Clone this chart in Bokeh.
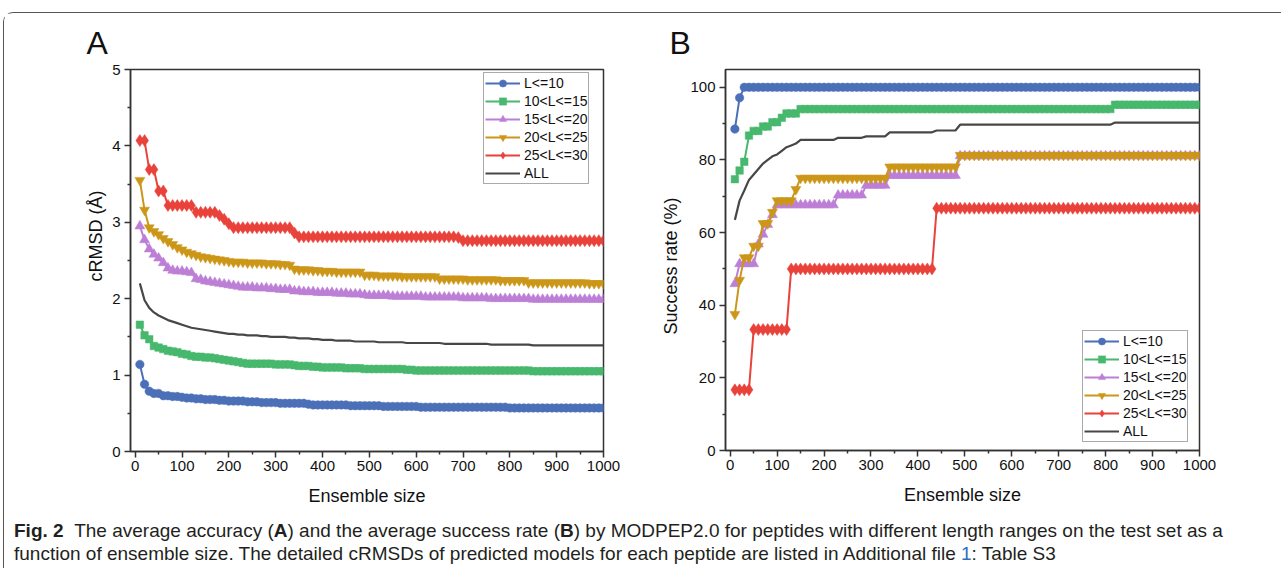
import math
from bokeh.plotting import figure
from bokeh.models import Legend, LegendItem, Title, Range1d, Div, FixedTicker
from bokeh.layouts import column, row
from bokeh.embed import file_html
from bokeh.resources import INLINE

# ---------------- data ----------------
ensemble_size = list(range(10, 1001, 10))

series_labels = ["L<=10", "10<L<=15", "15<L<=20", "20<L<=25", "25<L<=30", "ALL"]

crmsd_L10 = [
    1.14, 0.88, 0.79, 0.76, 0.76, 0.73, 0.73, 0.72, 0.72, 0.71,
    0.70, 0.70, 0.69, 0.69, 0.68, 0.68, 0.68, 0.67, 0.67, 0.66,
    0.66, 0.66, 0.66, 0.65, 0.65, 0.65, 0.64, 0.64, 0.64, 0.64,
    0.63, 0.63, 0.63, 0.63, 0.63, 0.63, 0.62, 0.61, 0.61, 0.61,
    0.61, 0.61, 0.61, 0.61, 0.61, 0.60, 0.60, 0.60, 0.60, 0.60,
    0.60, 0.60, 0.59, 0.59, 0.59, 0.59, 0.59, 0.59, 0.59, 0.59,
    0.58, 0.58, 0.58, 0.58, 0.58, 0.58, 0.58, 0.58, 0.58, 0.58,
    0.58, 0.58, 0.58, 0.58, 0.58, 0.58, 0.58, 0.58, 0.58, 0.57,
    0.57, 0.57, 0.57, 0.57, 0.57, 0.57, 0.57, 0.57, 0.57, 0.57,
    0.57, 0.57, 0.57, 0.57, 0.57, 0.57, 0.57, 0.57, 0.57, 0.57,
]
crmsd_L15 = [
    1.66, 1.52, 1.47, 1.38, 1.36, 1.34, 1.32, 1.31, 1.30, 1.28,
    1.27, 1.25, 1.24, 1.24, 1.23, 1.23, 1.22, 1.21, 1.20, 1.19,
    1.18, 1.17, 1.16, 1.15, 1.15, 1.15, 1.15, 1.15, 1.15, 1.14,
    1.14, 1.14, 1.14, 1.13, 1.12, 1.12, 1.12, 1.11, 1.11, 1.10,
    1.10, 1.10, 1.10, 1.10, 1.09, 1.09, 1.09, 1.09, 1.08, 1.08,
    1.08, 1.08, 1.08, 1.08, 1.08, 1.08, 1.08, 1.07, 1.07, 1.06,
    1.06, 1.06, 1.06, 1.06, 1.06, 1.06, 1.06, 1.06, 1.06, 1.06,
    1.06, 1.06, 1.06, 1.06, 1.06, 1.06, 1.06, 1.06, 1.06, 1.06,
    1.06, 1.06, 1.06, 1.06, 1.05, 1.05, 1.05, 1.05, 1.05, 1.05,
    1.05, 1.05, 1.05, 1.05, 1.05, 1.05, 1.05, 1.05, 1.05, 1.05,
]
crmsd_L20 = [
    2.95, 2.77, 2.65, 2.58, 2.53, 2.47, 2.40, 2.37, 2.36, 2.36,
    2.35, 2.34, 2.26, 2.25, 2.23, 2.22, 2.21, 2.20, 2.19, 2.18,
    2.17, 2.16, 2.15, 2.15, 2.15, 2.14, 2.14, 2.14, 2.13, 2.13,
    2.12, 2.12, 2.12, 2.10, 2.10, 2.09, 2.09, 2.09, 2.08, 2.08,
    2.08, 2.08, 2.07, 2.07, 2.07, 2.06, 2.06, 2.06, 2.05, 2.04,
    2.04, 2.04, 2.04, 2.04, 2.03, 2.03, 2.03, 2.03, 2.03, 2.03,
    2.03, 2.02, 2.02, 2.02, 2.02, 2.02, 2.02, 2.02, 2.02, 2.01,
    2.01, 2.01, 2.01, 2.01, 2.01, 2.00, 2.00, 2.00, 2.00, 2.00,
    2.00, 2.00, 2.00, 2.00, 1.99, 1.99, 1.99, 1.99, 1.99, 1.99,
    1.99, 1.99, 1.99, 1.99, 1.99, 1.99, 1.99, 1.99, 1.99, 1.99,
]
crmsd_L25 = [
    3.55, 3.16, 2.93, 2.88, 2.84, 2.79, 2.75, 2.71, 2.67, 2.64,
    2.61, 2.59, 2.57, 2.55, 2.54, 2.53, 2.52, 2.51, 2.50, 2.49,
    2.48, 2.48, 2.48, 2.47, 2.47, 2.47, 2.47, 2.46, 2.46, 2.46,
    2.45, 2.45, 2.44, 2.39, 2.38, 2.38, 2.38, 2.37, 2.37, 2.36,
    2.36, 2.36, 2.35, 2.35, 2.35, 2.35, 2.35, 2.35, 2.31, 2.31,
    2.31, 2.30, 2.30, 2.30, 2.30, 2.30, 2.29, 2.29, 2.29, 2.29,
    2.29, 2.29, 2.29, 2.29, 2.26, 2.26, 2.26, 2.26, 2.26, 2.26,
    2.25, 2.25, 2.25, 2.25, 2.25, 2.25, 2.25, 2.24, 2.24, 2.24,
    2.24, 2.24, 2.24, 2.21, 2.21, 2.21, 2.21, 2.21, 2.21, 2.21,
    2.21, 2.21, 2.21, 2.21, 2.21, 2.21, 2.20, 2.20, 2.20, 2.20,
]
crmsd_L30 = [
    4.07, 4.07, 3.69, 3.69, 3.41, 3.41, 3.22, 3.22, 3.22, 3.22,
    3.22, 3.22, 3.13, 3.13, 3.13, 3.13, 3.13, 3.09, 3.04, 2.98,
    2.93, 2.93, 2.93, 2.93, 2.93, 2.93, 2.93, 2.93, 2.93, 2.93,
    2.93, 2.93, 2.93, 2.86, 2.81, 2.81, 2.81, 2.81, 2.81, 2.81,
    2.81, 2.81, 2.81, 2.81, 2.81, 2.81, 2.81, 2.81, 2.81, 2.81,
    2.81, 2.81, 2.81, 2.81, 2.81, 2.81, 2.81, 2.81, 2.81, 2.81,
    2.81, 2.81, 2.81, 2.81, 2.81, 2.81, 2.81, 2.81, 2.80, 2.76,
    2.76, 2.76, 2.76, 2.76, 2.76, 2.76, 2.76, 2.76, 2.76, 2.76,
    2.76, 2.76, 2.76, 2.76, 2.76, 2.76, 2.76, 2.76, 2.76, 2.76,
    2.76, 2.76, 2.76, 2.76, 2.76, 2.76, 2.76, 2.76, 2.76, 2.76,
]
crmsd_all = [
    2.20, 1.98, 1.88, 1.82, 1.78, 1.75, 1.72, 1.70, 1.68, 1.66,
    1.64, 1.62, 1.61, 1.60, 1.59, 1.58, 1.57, 1.56, 1.55, 1.54,
    1.54, 1.53, 1.53, 1.52, 1.52, 1.52, 1.51, 1.51, 1.50, 1.50,
    1.50, 1.50, 1.49, 1.49, 1.48, 1.48, 1.48, 1.47, 1.47, 1.46,
    1.46, 1.46, 1.45, 1.45, 1.45, 1.45, 1.44, 1.44, 1.44, 1.44,
    1.44, 1.43, 1.43, 1.43, 1.43, 1.43, 1.43, 1.42, 1.42, 1.42,
    1.42, 1.42, 1.42, 1.42, 1.42, 1.41, 1.41, 1.41, 1.41, 1.41,
    1.41, 1.41, 1.41, 1.41, 1.41, 1.40, 1.40, 1.40, 1.40, 1.40,
    1.40, 1.40, 1.40, 1.40, 1.39, 1.39, 1.39, 1.39, 1.39, 1.39,
    1.39, 1.39, 1.39, 1.39, 1.39, 1.39, 1.39, 1.39, 1.39, 1.39,
]

rate_L10 = [
    88.5, 97.1, 100.0, 100.0, 100.0, 100.0, 100.0, 100.0, 100.0, 100.0,
    100.0, 100.0, 100.0, 100.0, 100.0, 100.0, 100.0, 100.0, 100.0, 100.0,
    100.0, 100.0, 100.0, 100.0, 100.0, 100.0, 100.0, 100.0, 100.0, 100.0,
    100.0, 100.0, 100.0, 100.0, 100.0, 100.0, 100.0, 100.0, 100.0, 100.0,
    100.0, 100.0, 100.0, 100.0, 100.0, 100.0, 100.0, 100.0, 100.0, 100.0,
    100.0, 100.0, 100.0, 100.0, 100.0, 100.0, 100.0, 100.0, 100.0, 100.0,
    100.0, 100.0, 100.0, 100.0, 100.0, 100.0, 100.0, 100.0, 100.0, 100.0,
    100.0, 100.0, 100.0, 100.0, 100.0, 100.0, 100.0, 100.0, 100.0, 100.0,
    100.0, 100.0, 100.0, 100.0, 100.0, 100.0, 100.0, 100.0, 100.0, 100.0,
    100.0, 100.0, 100.0, 100.0, 100.0, 100.0, 100.0, 100.0, 100.0, 100.0,
]
rate_L15 = [
    74.7, 77.1, 79.5, 86.7, 88.0, 88.0, 89.2, 89.2, 90.4, 90.4,
    91.6, 92.8, 92.8, 92.8, 94.0, 94.0, 94.0, 94.0, 94.0, 94.0,
    94.0, 94.0, 94.0, 94.0, 94.0, 94.0, 94.0, 94.0, 94.0, 94.0,
    94.0, 94.0, 94.0, 94.0, 94.0, 94.0, 94.0, 94.0, 94.0, 94.0,
    94.0, 94.0, 94.0, 94.0, 94.0, 94.0, 94.0, 94.0, 94.0, 94.0,
    94.0, 94.0, 94.0, 94.0, 94.0, 94.0, 94.0, 94.0, 94.0, 94.0,
    94.0, 94.0, 94.0, 94.0, 94.0, 94.0, 94.0, 94.0, 94.0, 94.0,
    94.0, 94.0, 94.0, 94.0, 94.0, 94.0, 94.0, 94.0, 94.0, 94.0,
    94.0, 95.2, 95.2, 95.2, 95.2, 95.2, 95.2, 95.2, 95.2, 95.2,
    95.2, 95.2, 95.2, 95.2, 95.2, 95.2, 95.2, 95.2, 95.2, 95.2,
]
rate_L20 = [
    45.9, 51.4, 51.4, 51.4, 51.4, 56.8, 59.5, 62.2, 64.9, 67.6,
    67.6, 67.6, 67.6, 67.6, 67.6, 67.6, 67.6, 67.6, 67.6, 67.6,
    67.6, 67.6, 70.3, 70.3, 70.3, 70.3, 70.3, 70.3, 73.0, 73.0,
    73.0, 73.0, 73.0, 75.7, 75.7, 75.7, 75.7, 75.7, 75.7, 75.7,
    75.7, 75.7, 75.7, 75.7, 75.7, 75.7, 75.7, 75.7, 81.1, 81.1,
    81.1, 81.1, 81.1, 81.1, 81.1, 81.1, 81.1, 81.1, 81.1, 81.1,
    81.1, 81.1, 81.1, 81.1, 81.1, 81.1, 81.1, 81.1, 81.1, 81.1,
    81.1, 81.1, 81.1, 81.1, 81.1, 81.1, 81.1, 81.1, 81.1, 81.1,
    81.1, 81.1, 81.1, 81.1, 81.1, 81.1, 81.1, 81.1, 81.1, 81.1,
    81.1, 81.1, 81.1, 81.1, 81.1, 81.1, 81.1, 81.1, 81.1, 81.1,
]
rate_L25 = [
    37.5, 46.9, 53.1, 53.1, 56.3, 56.3, 62.5, 62.5, 65.6, 68.8,
    68.8, 68.8, 68.8, 71.9, 75.0, 75.0, 75.0, 75.0, 75.0, 75.0,
    75.0, 75.0, 75.0, 75.0, 75.0, 75.0, 75.0, 75.0, 75.0, 75.0,
    75.0, 75.0, 75.0, 78.1, 78.1, 78.1, 78.1, 78.1, 78.1, 78.1,
    78.1, 78.1, 78.1, 78.1, 78.1, 78.1, 78.1, 78.1, 81.3, 81.3,
    81.3, 81.3, 81.3, 81.3, 81.3, 81.3, 81.3, 81.3, 81.3, 81.3,
    81.3, 81.3, 81.3, 81.3, 81.3, 81.3, 81.3, 81.3, 81.3, 81.3,
    81.3, 81.3, 81.3, 81.3, 81.3, 81.3, 81.3, 81.3, 81.3, 81.3,
    81.3, 81.3, 81.3, 81.3, 81.3, 81.3, 81.3, 81.3, 81.3, 81.3,
    81.3, 81.3, 81.3, 81.3, 81.3, 81.3, 81.3, 81.3, 81.3, 81.3,
]
rate_L30 = [
    16.7, 16.7, 16.7, 16.7, 33.3, 33.3, 33.3, 33.3, 33.3, 33.3,
    33.3, 33.3, 50.0, 50.0, 50.0, 50.0, 50.0, 50.0, 50.0, 50.0,
    50.0, 50.0, 50.0, 50.0, 50.0, 50.0, 50.0, 50.0, 50.0, 50.0,
    50.0, 50.0, 50.0, 50.0, 50.0, 50.0, 50.0, 50.0, 50.0, 50.0,
    50.0, 50.0, 50.0, 66.7, 66.7, 66.7, 66.7, 66.7, 66.7, 66.7,
    66.7, 66.7, 66.7, 66.7, 66.7, 66.7, 66.7, 66.7, 66.7, 66.7,
    66.7, 66.7, 66.7, 66.7, 66.7, 66.7, 66.7, 66.7, 66.7, 66.7,
    66.7, 66.7, 66.7, 66.7, 66.7, 66.7, 66.7, 66.7, 66.7, 66.7,
    66.7, 66.7, 66.7, 66.7, 66.7, 66.7, 66.7, 66.7, 66.7, 66.7,
    66.7, 66.7, 66.7, 66.7, 66.7, 66.7, 66.7, 66.7, 66.7, 66.7,
]
rate_all = [
    63.5, 68.8, 71.6, 74.5, 76.0, 77.5, 79.0, 80.0, 81.0, 81.5,
    82.5, 83.5, 84.0, 84.5, 85.5, 85.5, 85.5, 85.5, 85.5, 85.5,
    85.5, 85.5, 86.1, 86.1, 86.1, 86.1, 86.1, 86.1, 86.5, 86.5,
    86.5, 86.5, 86.5, 87.6, 87.6, 87.6, 87.6, 87.6, 87.6, 87.6,
    87.6, 87.6, 87.6, 88.1, 88.1, 88.1, 88.1, 88.1, 89.7, 89.7,
    89.7, 89.7, 89.7, 89.7, 89.7, 89.7, 89.7, 89.7, 89.7, 89.7,
    89.7, 89.7, 89.7, 89.7, 89.7, 89.7, 89.7, 89.7, 89.7, 89.7,
    89.7, 89.7, 89.7, 89.7, 89.7, 89.7, 89.7, 89.7, 89.7, 89.7,
    89.7, 90.3, 90.3, 90.3, 90.3, 90.3, 90.3, 90.3, 90.3, 90.3,
    90.3, 90.3, 90.3, 90.3, 90.3, 90.3, 90.3, 90.3, 90.3, 90.3,
]

x_ticks = [0, 100, 200, 300, 400, 500, 600, 700, 800, 900, 1000]
x_minor = [50, 150, 250, 350, 450, 550, 650, 750, 850, 950]
a_y_ticks = [0, 1, 2, 3, 4, 5]
a_y_minor = [0.5, 1.5, 2.5, 3.5, 4.5]
b_y_ticks = [0, 20, 40, 60, 80, 100]
b_y_minor = [10, 30, 50, 70, 90]

# ---------------- style ----------------
FONT = "Liberation Sans"
AXC = "#333333"
TXT = "#111111"
colors = ["#4B70B8", "#47B86D", "#BD7FD6", "#CC9618", "#E8423B", "#4A4646"]
markers = [("circle", 8.5), ("square", 7.5), ("triangle", 10),
           ("inverted_triangle", 10), ("diamond", 12)]


def make_fig(frame_w, frame_h, left, right, top, yr, letter, letter_offset):
    p = figure(frame_width=frame_w, frame_height=frame_h,
               min_border_left=left, min_border_right=right,
               min_border_top=top, min_border_bottom=55,
               x_range=Range1d(-10, 1000), y_range=Range1d(*yr),
               title=letter, output_backend="svg", toolbar_location=None)
    p.title.text_font = FONT
    p.title.text_font_size = "32px"
    p.title.text_font_style = "normal"
    p.title.text_color = TXT
    p.title.align = "left"
    p.title.vertical_align = "middle"
    p.title.offset = letter_offset
    p.title.standoff = 16
    p.xgrid.visible = False
    p.ygrid.visible = False
    p.outline_line_color = AXC
    p.outline_line_width = 1.5
    p.outline_line_alpha = 1
    p.background_fill_color = "white"
    p.border_fill_color = "white"
    for ax in (p.xaxis[0], p.yaxis[0]):
        ax.axis_line_color = AXC
        ax.axis_line_width = 1.5
        ax.major_tick_line_color = AXC
        ax.major_tick_line_width = 1.5
        ax.minor_tick_line_color = AXC
        ax.minor_tick_line_width = 1.5
        ax.major_tick_out = 6
        ax.major_tick_in = 0
        ax.minor_tick_out = 3
        ax.minor_tick_in = 0
        ax.major_label_text_font = FONT
        ax.major_label_text_font_size = "15px"
        ax.major_label_text_color = TXT
        ax.axis_label_text_font = FONT
        ax.axis_label_text_font_size = "18px"
        ax.axis_label_text_font_style = "normal"
        ax.axis_label_text_color = TXT
    p.xaxis[0].major_label_standoff = 3
    p.yaxis[0].major_label_standoff = 4
    p.xaxis[0].axis_label = "Ensemble size"
    p.xaxis[0].axis_label_standoff = 12
    return p


def add_ylabel(p, text, offset, standoff):
    p.add_layout(Title(text=text, align="left", offset=offset, standoff=standoff,
                       text_font=FONT, text_font_size="18px", text_font_style="normal",
                       text_color=TXT), "left")


def add_series(p, series):
    items = []
    for i, ys in enumerate(series):
        if i < 5:
            lr = p.line(ensemble_size, ys, line_color=colors[i], line_width=2)
            mk, sz = markers[i]
            sr = p.scatter(ensemble_size, ys, marker=mk, size=sz,
                           fill_color=colors[i], line_color=colors[i], line_width=0.5)
            items.append(LegendItem(label=series_labels[i], renderers=[lr, sr]))
        else:
            lr = p.line(ensemble_size, ys, line_color=colors[i], line_width=2.2)
            items.append(LegendItem(label=series_labels[i], renderers=[lr]))
    return items


def add_legend(p, items, loc):
    lg = Legend(items=items, location=loc, glyph_width=35, glyph_height=18,
                label_height=18, label_standoff=4, spacing=0, padding=1, margin=0,
                border_line_color="#555555", border_line_width=1,
                background_fill_color="white", background_fill_alpha=1,
                label_text_font=FONT, label_text_font_size="14px",
                label_text_color=TXT)
    p.add_layout(lg)


# Panel A
pA = make_fig(473, 382, 126, 27, 55, (0, 5), "A", -44)
pA.xaxis[0].ticker = FixedTicker(ticks=x_ticks, minor_ticks=x_minor)
pA.yaxis[0].ticker = FixedTicker(ticks=a_y_ticks, minor_ticks=a_y_minor)
add_ylabel(pA, "cRMSD (Å)", 170, 7)
itemsA = add_series(pA, [crmsd_L10, crmsd_L15, crmsd_L20, crmsd_L25, crmsd_L30, crmsd_all])
add_legend(pA, itemsA, (353, 267))

# Panel B
pB = make_fig(474, 381, 95, 80, 56, (0, 104.9), "B", -56)
pB.xaxis[0].ticker = FixedTicker(ticks=x_ticks, minor_ticks=x_minor)
pB.yaxis[0].ticker = FixedTicker(ticks=b_y_ticks, minor_ticks=b_y_minor)
add_ylabel(pB, "Success rate (%)", 116, 13)
itemsB = add_series(pB, [rate_L10, rate_L15, rate_L20, rate_L25, rate_L30, rate_all])
add_legend(pB, itemsB, (357, 8))

caption_html = (
    '<div style="padding:7px 0 0 5px;font-family:\'Liberation Sans\',sans-serif;'
    'font-size:19px;line-height:23px;color:#231f20;white-space:nowrap">'
    '<b>Fig. 2</b>&nbsp;&nbsp;The average accuracy (<b>A</b>) and the average success rate (<b>B</b>) '
    'by MODPEP2.0 for peptides with different length ranges on the test set as a<br>'
    'function of ensemble size. The detailed cRMSDs of predicted models for each peptide are listed in '
    'Additional file <span style="color:#2e6fbd">1</span>: Table S3</div>'
)
cap = Div(text=caption_html, width=1275, height=58)

layout = column(row(pA, pB), cap,
                styles={"position": "relative", "top": "12px", "left": "3px",
                        "border-top": "1px solid #555555", "border-left": "1px solid #555555",
                        "border-top-left-radius": "10px", "background": "white"})

open("out.html", "w").write(file_html(layout, INLINE))
